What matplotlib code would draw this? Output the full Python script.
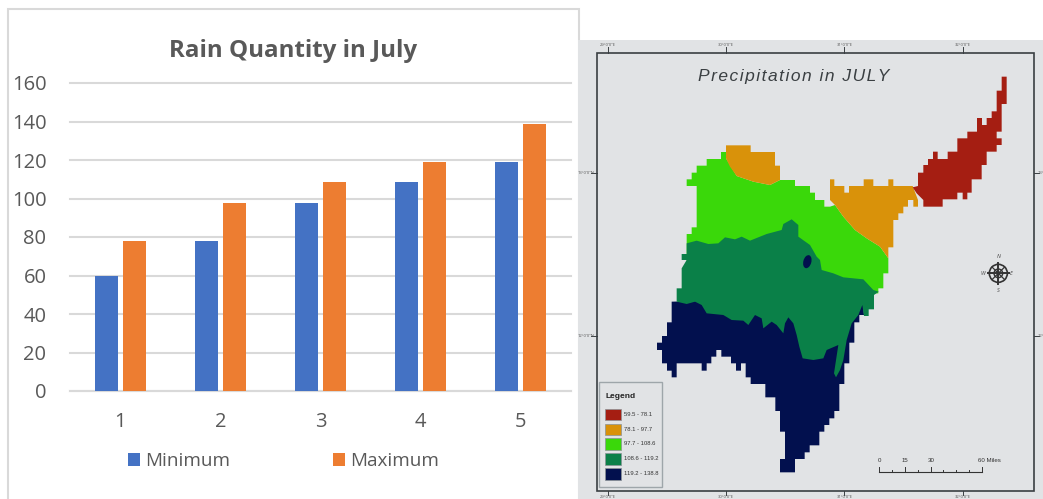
import matplotlib
matplotlib.use("Agg")
import matplotlib.pyplot as plt
from matplotlib.patches import Polygon, Rectangle, Ellipse, Circle

W, H = 1043, 499
plt.rcParams['font.family'] = ['Open Sans', 'DejaVu Sans']

# ------------------------------
# DATA
# ------------------------------
categories = [1, 2, 3, 4, 5]
minimum = [59.5, 78.1, 97.7, 108.6, 119.2]
maximum = [78.1, 97.7, 108.6, 119.2, 138.8]
y_ticks = [0, 20, 40, 60, 80, 100, 120, 140, 160]

legend_labels = ["59.5 - 78.1", "78.1 - 97.7", "97.7 - 108.6", "108.6 - 119.2", "119.2 - 138.8"]
legend_colors = ["#A51E12", "#D9920A", "#3AD80A", "#0A8048", "#02104E"]

lon_labels = ["29°0'0\"E", "30°0'0\"E", "31°0'0\"E", "32°0'0\"E"]
lat_labels = ["13°0'0\"N", "12°0'0\"N"]
scale_labels = ["0", "15", "30", "60 Miles"]

region_red = [(1265, 140), (1280, 140), (1280, 222), (1265, 222), (1265, 305), (1250, 305), (1250, 325),
              (1265, 325), (1265, 345), (1250, 345), (1250, 365), (1220, 365), (1220, 405), (1205, 405),
              (1205, 448), (1175, 448), (1175, 488), (1162, 488), (1162, 508), (1148, 508), (1148, 488),
              (1132, 488), (1132, 508), (1088, 508), (1088, 530), (1030, 530), (1030, 510), (1010, 490),
              (998, 472), (1014, 468), (1014, 428), (1030, 428), (1030, 405), (1044, 405), (1044, 387),
              (1059, 387), (1059, 365), (1073, 365), (1073, 387), (1103, 387), (1103, 365), (1132, 365),
              (1132, 325), (1162, 325), (1162, 305), (1191, 305), (1191, 264), (1206, 264), (1206, 285),
              (1220, 285), (1220, 264), (1235, 264), (1235, 244), (1250, 244), (1250, 182), (1265, 182)]
region_orange_north = [(438, 346), (512, 346), (512, 366), (585, 366), (585, 407), (600, 407), (600, 450),
                       (570, 465), (520, 455), (470, 438), (450, 410), (438, 385)]
region_orange_east = [(750, 448), (763, 448), (763, 468), (793, 468), (793, 488), (807, 488), (807, 468),
                      (851, 468), (851, 448), (880, 448), (880, 468), (925, 468), (925, 448), (940, 448),
                      (940, 468), (998, 468), (1014, 510), (1014, 530), (1000, 530), (1000, 510), (984, 510),
                      (984, 530), (970, 530), (970, 550), (955, 550), (955, 570), (940, 570), (940, 652),
                      (925, 652), (925, 685), (900, 650), (860, 625), (825, 600), (790, 560), (765, 525),
                      (750, 510)]
region_light = [(320, 448), (335, 448), (335, 428), (350, 428), (350, 407), (380, 407), (380, 387), (423, 387),
                (423, 366), (438, 366), (438, 385), (470, 438), (520, 455), (570, 465), (600, 450), (645, 450),
                (645, 468), (690, 468), (690, 488), (705, 488), (705, 510), (733, 510), (733, 530), (750, 530),
                (765, 525), (790, 560), (825, 600), (860, 625), (900, 650), (925, 685), (925, 730), (910, 730),
                (910, 775), (895, 775), (895, 790), (600, 800), (320, 700), (320, 612), (335, 612), (335, 592),
                (350, 592), (350, 468), (320, 468)]
region_navy = [(275, 815), (848, 800), (852, 855), (838, 855), (838, 877), (823, 877),
               (823, 938), (808, 938), (808, 1000), (793, 1000), (793, 1062), (778, 1062), (778, 1143), (763, 1143),
               (763, 1165), (748, 1165), (748, 1185), (733, 1185), (733, 1205), (718, 1205), (718, 1246), (689, 1246),
               (689, 1267), (674, 1267), (674, 1287), (645, 1287), (645, 1327), (600, 1327), (600, 1287), (615, 1287),
               (615, 1205), (600, 1205), (600, 1143), (586, 1143), (586, 1102), (556, 1102), (556, 1062), (512, 1062),
               (512, 1042), (497, 1042), (497, 1000), (483, 1000), (483, 1022), (468, 1022), (468, 1000), (453, 1000),
               (453, 980), (424, 980), (424, 960), (409, 960), (409, 980), (394, 980), (394, 1000), (380, 1000),
               (380, 1022), (365, 1022), (365, 1000), (290, 1000), (290, 1042), (275, 1042), (275, 1022), (261, 1022),
               (261, 1000), (246, 1000), (246, 960), (231, 960), (231, 938), (246, 938), (246, 918), (261, 918),
               (261, 877), (275, 877)]
region_green = [(320, 640), (350, 632), (385, 642), (415, 640), (435, 622), (465, 628), (485, 620), (510, 632),
                (560, 612), (605, 600), (610, 582), (635, 568), (655, 585), (655, 620), (690, 645), (710, 680),
                (720, 690), (725, 720), (760, 730), (790, 742), (850, 748), (880, 780), (896, 785), (882, 795),
                (882, 838), (866, 838), (866, 858), (852, 858), (847, 825), (835, 855), (815, 880), (800, 930),
                (790, 990), (780, 1020), (768, 1042), (762, 1030), (775, 945), (740, 960), (730, 985), (700, 990),
                (668, 985), (658, 950), (650, 915), (640, 880), (625, 862), (615, 880), (610, 910), (590, 885),
                (575, 875), (550, 895), (545, 865), (525, 855), (505, 885), (490, 872), (455, 870), (430, 855),
                (380, 850), (365, 825), (345, 815), (320, 822), (290, 815), (290, 775), (305, 775), (305, 715),
                (320, 690), (305, 690), (305, 672), (320, 672)]

# ------------------------------
# BACKGROUND (card and map panel, in pixels)
# ------------------------------
fig = plt.figure(figsize=(W / 100, H / 100), dpi=100, facecolor='white')

bg = fig.add_axes([0, 0, 1, 1])
bg.set_xlim(0, W)
bg.set_ylim(H, 0)
bg.axis('off')
bg.add_patch(Rectangle((7.5, 9), 571, 510, facecolor='white', edgecolor='#D9D9D9', linewidth=1.5))
bg.add_patch(Rectangle((578, 40), 465, 459, facecolor='#E1E3E5', edgecolor='none'))

# ------------------------------
# BAR CHART
# ------------------------------
ax = fig.add_axes([70 / W, 1 - 391 / H, 501 / W, 308 / H])
ax.patch.set_alpha(0)
x = list(categories)
ax.bar([i - 0.14 for i in x], minimum, width=0.23, color='#4472C4', label='Minimum', zorder=3)
ax.bar([i + 0.14 for i in x], maximum, width=0.23, color='#ED7D31', label='Maximum', zorder=3)
ax.set_xlim(0.5, 5.5)
ax.set_ylim(0, 160)
ax.set_yticks(y_ticks)
ax.set_xticks(x)
ax.grid(axis='y', color='#D9D9D9', linewidth=1.5, zorder=0, clip_on=False)
ax.tick_params(length=0, labelsize=14.5, labelcolor='#595959')
ax.tick_params(axis='y', pad=17)
ax.tick_params(axis='x', pad=15)
for side in ['top', 'right', 'left']:
    ax.spines[side].set_visible(False)
ax.spines['bottom'].set_color('#D9D9D9')
ax.spines['bottom'].set_linewidth(1.5)
ax.set_axisbelow(True)

bg.text(293.5, 50.5, "Rain Quantity in July", fontsize=17.4, fontweight='bold', color='#595959',
        ha='center', va='center')
fig.legend(loc='center', bbox_to_anchor=(283.5 / W, 1 - 461 / H), ncol=2, frameon=False, fontsize=13.6,
           labelcolor='#595959', handlelength=0.64, handleheight=0.64, handletextpad=0.3, columnspacing=5.4)

# ------------------------------
# MAP
# ------------------------------
m = fig.add_axes([580 / W, 0, 463 / W, 459 / H])
m.set_xlim(0, 1389)
m.set_ylim(1407, 30)
m.axis('off')

m.add_patch(Rectangle((50, 68), 1313, 1314, facecolor='none', edgecolor='#3A3F42', linewidth=1.2))

for tx, label in zip([83, 438, 793, 1148], lon_labels):
    m.plot([tx, tx], [52, 68], color='#3A3F42', linewidth=0.7)
    m.plot([tx, tx], [1382, 1396], color='#3A3F42', linewidth=0.7)
    m.text(tx, 45, label, fontsize=3, color='#555555', ha='center', va='center')
    m.text(tx, 1402, label, fontsize=3, color='#555555', ha='center', va='center')
for ty, label in zip([428, 918], lat_labels):
    m.plot([34, 50], [ty, ty], color='#3A3F42', linewidth=0.7)
    m.plot([1363, 1378], [ty, ty], color='#3A3F42', linewidth=0.7)
    m.text(18, ty, label, fontsize=3, color='#555555', ha='center', va='center')
    m.text(1383, ty, label[:3], fontsize=3, color='#555555', ha='center', va='center')

# hair spaces give the wide letter spacing of the original title
m.text(640, 141, "\u200a".join("Precipitation in JULY"), fontsize=12.5, style='italic', color='#3A3F42',
       ha='center', va='center', family=['Liberation Sans', 'DejaVu Sans'])

m.add_patch(Polygon(region_light, closed=True, facecolor=legend_colors[2], edgecolor='none'))
m.add_patch(Polygon(region_navy, closed=True, facecolor=legend_colors[4], edgecolor='none'))
m.add_patch(Polygon(region_green, closed=True, facecolor=legend_colors[3], edgecolor='none'))
m.add_patch(Polygon(region_orange_north, closed=True, facecolor=legend_colors[1], edgecolor='none'))
m.add_patch(Polygon(region_orange_east, closed=True, facecolor=legend_colors[1], edgecolor='none'))
m.add_patch(Polygon(region_red, closed=True, facecolor=legend_colors[0], edgecolor='none'))
m.add_patch(Ellipse((682, 695), 24, 40, angle=15, facecolor=legend_colors[4], edgecolor='none'))

# map legend
m.add_patch(Rectangle((58, 1057), 188, 315, facecolor='#E1E3E5', edgecolor='#9EA6AA', linewidth=1))
m.text(75, 1100, "Legend", fontsize=6, fontweight='bold', color='#222222', va='center',
       family='Liberation Sans')
for sy, c, label in zip([1153, 1198, 1242, 1287, 1332], legend_colors, legend_labels):
    m.add_patch(Rectangle((74, sy - 17), 48, 34, facecolor=c, edgecolor='#8A9296', linewidth=0.5))
    m.text(131, sy, label, fontsize=4.2, color='#333333', va='center', family='Liberation Sans')

# scale bar
m.plot([897, 1206], [1327, 1327], color='#333333', linewidth=0.8)
for k, tx in enumerate([897, 936, 974, 1013, 1052, 1090, 1129, 1167, 1206]):
    tall = k in (0, 2, 4, 8)
    m.plot([tx, tx], [1327 - (16 if tall else 8), 1327], color='#333333', linewidth=0.7)
for tx, label in zip([897, 974, 1052, 1227], scale_labels):
    m.text(tx, 1292, label, fontsize=4.4, color='#333333', ha='center', va='center', family='Liberation Sans')

# compass
cx, cy = 1255, 730
m.add_patch(Circle((cx, cy), 27, facecolor='none', edgecolor='#333333', linewidth=1.2))
m.add_patch(Circle((cx, cy), 13, facecolor='none', edgecolor='#333333', linewidth=1.0))
m.plot([cx - 32, cx + 32], [cy, cy], color='#333333', linewidth=1.4)
m.plot([cx, cx], [cy - 32, cy + 32], color='#333333', linewidth=1.4)
m.plot([cx - 19, cx + 19], [cy - 19, cy + 19], color='#333333', linewidth=0.9)
m.plot([cx - 19, cx + 19], [cy + 19, cy - 19], color='#333333', linewidth=0.9)
for dx, dy, label in [(0, -50, 'N'), (0, 52, 'S'), (-48, 0, 'W'), (40, 0, 'E')]:
    m.text(cx + dx, cy + dy, label, fontsize=4, style='italic', color='#444444', ha='center', va='center')

fig.savefig("out.png", dpi=100)
